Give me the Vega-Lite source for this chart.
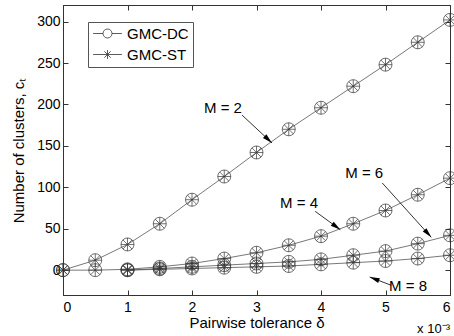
{
  "$schema": "https://vega.github.io/schema/vega-lite/v6.json",
  "autosize": "none",
  "width": 387,
  "height": 290,
  "padding": {"left": 63, "top": 5, "right": 4, "bottom": 41},
  "background": "white",
  "config": {
    "view": {"stroke": "#333", "strokeWidth": 1},
    "font": "Liberation Sans",
    "axis": {"labelFont": "Liberation Sans", "titleFont": "Liberation Sans", "labelColor": "black", "titleColor": "black", "domainColor": "#333", "tickColor": "#333", "grid": false, "labelFontSize": 14, "titleFontSize": 15, "titleFontWeight": "normal"}
  },
  "datasets": {
    "curves": [
      {"d": 0, "M": "2", "GMC-DC": 0, "GMC-ST": 0},
      {"d": 0.5, "M": "2", "GMC-DC": 12, "GMC-ST": 12},
      {"d": 1, "M": "2", "GMC-DC": 31, "GMC-ST": 31},
      {"d": 1.5, "M": "2", "GMC-DC": 56, "GMC-ST": 56},
      {"d": 2, "M": "2", "GMC-DC": 85, "GMC-ST": 85},
      {"d": 2.5, "M": "2", "GMC-DC": 113, "GMC-ST": 113},
      {"d": 3, "M": "2", "GMC-DC": 142, "GMC-ST": 142},
      {"d": 3.5, "M": "2", "GMC-DC": 170, "GMC-ST": 170},
      {"d": 4, "M": "2", "GMC-DC": 196, "GMC-ST": 196},
      {"d": 4.5, "M": "2", "GMC-DC": 222, "GMC-ST": 222},
      {"d": 5, "M": "2", "GMC-DC": 248, "GMC-ST": 248},
      {"d": 5.5, "M": "2", "GMC-DC": 275, "GMC-ST": 275},
      {"d": 6, "M": "2", "GMC-DC": 302, "GMC-ST": 302},
      {"d": 0, "M": "4", "GMC-DC": 0, "GMC-ST": 0},
      {"d": 0.5, "M": "4", "GMC-DC": 0, "GMC-ST": 0},
      {"d": 1, "M": "4", "GMC-DC": 1, "GMC-ST": 1},
      {"d": 1.5, "M": "4", "GMC-DC": 4, "GMC-ST": 4},
      {"d": 2, "M": "4", "GMC-DC": 8, "GMC-ST": 8},
      {"d": 2.5, "M": "4", "GMC-DC": 14, "GMC-ST": 14},
      {"d": 3, "M": "4", "GMC-DC": 21, "GMC-ST": 21},
      {"d": 3.5, "M": "4", "GMC-DC": 30, "GMC-ST": 30},
      {"d": 4, "M": "4", "GMC-DC": 41, "GMC-ST": 41},
      {"d": 4.5, "M": "4", "GMC-DC": 56, "GMC-ST": 56},
      {"d": 5, "M": "4", "GMC-DC": 72, "GMC-ST": 72},
      {"d": 5.5, "M": "4", "GMC-DC": 91, "GMC-ST": 91},
      {"d": 6, "M": "4", "GMC-DC": 111, "GMC-ST": 111},
      {"d": 1, "M": "6", "GMC-DC": 0, "GMC-ST": 0},
      {"d": 1.5, "M": "6", "GMC-DC": 2, "GMC-ST": 2},
      {"d": 2, "M": "6", "GMC-DC": 4, "GMC-ST": 4},
      {"d": 2.5, "M": "6", "GMC-DC": 6, "GMC-ST": 6},
      {"d": 3, "M": "6", "GMC-DC": 8, "GMC-ST": 8},
      {"d": 3.5, "M": "6", "GMC-DC": 10, "GMC-ST": 10},
      {"d": 4, "M": "6", "GMC-DC": 13, "GMC-ST": 13},
      {"d": 4.5, "M": "6", "GMC-DC": 18, "GMC-ST": 18},
      {"d": 5, "M": "6", "GMC-DC": 23, "GMC-ST": 23},
      {"d": 5.5, "M": "6", "GMC-DC": 32, "GMC-ST": 32},
      {"d": 6, "M": "6", "GMC-DC": 42, "GMC-ST": 42},
      {"d": 1, "M": "8", "GMC-DC": 0, "GMC-ST": 0},
      {"d": 1.5, "M": "8", "GMC-DC": 1, "GMC-ST": 1},
      {"d": 2, "M": "8", "GMC-DC": 2, "GMC-ST": 2},
      {"d": 2.5, "M": "8", "GMC-DC": 3, "GMC-ST": 3},
      {"d": 3, "M": "8", "GMC-DC": 4, "GMC-ST": 4},
      {"d": 3.5, "M": "8", "GMC-DC": 5, "GMC-ST": 5},
      {"d": 4, "M": "8", "GMC-DC": 7, "GMC-ST": 7},
      {"d": 4.5, "M": "8", "GMC-DC": 9, "GMC-ST": 9},
      {"d": 5, "M": "8", "GMC-DC": 11, "GMC-ST": 11},
      {"d": 5.5, "M": "8", "GMC-DC": 14, "GMC-ST": 14},
      {"d": 6, "M": "8", "GMC-DC": 18, "GMC-ST": 18}
    ],
    "notes": [
      {"label": "M = 2", "tx": 2.48, "ty": 195.7, "ax": 2.775, "ay": 187.2, "bx": 3.24, "by": 153.5},
      {"label": "M = 4", "tx": 3.66, "ty": 81, "ax": 3.91, "ay": 71, "bx": 4.3, "by": 48.8},
      {"label": "M = 6", "tx": 4.67, "ty": 117.3, "ax": 4.95, "ay": 105.2, "bx": 5.71, "by": 39.6},
      {"label": "M = 8", "tx": 5.35, "ty": -19.5, "ax": 5.09, "ay": -18.3, "bx": 4.755, "by": -8.3}
    ],
    "scaleNote": [{"note": "x 10⁻³", "d": 6, "c": -75.5}]
  },
  "layer": [
    {
      "data": {"name": "curves"},
      "mark": {"type": "line", "color": "#555", "strokeWidth": 0.8},
      "encoding": {
        "x": {"field": "d", "type": "quantitative", "scale": {"domain": [0, 6], "nice": false},
              "axis": {"orient": "bottom", "values": [0, 1, 2, 3, 4, 5, 6], "tickSize": -5, "labelPadding": 10, "title": "Pairwise tolerance δ", "titlePadding": 1.5}},
        "y": {"field": "GMC-DC", "type": "quantitative", "scale": {"domain": [-30, 320], "nice": false, "zero": false},
              "axis": {"orient": "left", "values": [0, 50, 100, 150, 200, 250, 300], "tickSize": -5, "labelPadding": 8, "title": "Number of clusters, cₜ", "titlePadding": 10}},
        "detail": {"field": "M", "type": "nominal"}
      }
    },
    {
      "data": {"name": "curves"},
      "mark": {"type": "point", "shape": "circle", "filled": false, "stroke": "#333", "strokeWidth": 0.7, "size": 169, "opacity": 1},
      "encoding": {
        "x": {"field": "d", "type": "quantitative",
              "axis": {"orient": "top", "values": [0, 1, 2, 3, 4, 5, 6], "tickSize": -5, "labels": false, "title": null}},
        "y": {"field": "GMC-DC", "type": "quantitative",
              "axis": {"orient": "right", "values": [0, 50, 100, 150, 200, 250, 300], "tickSize": -5, "labels": false, "title": null}}
      }
    },
    {
      "data": {"name": "curves"},
      "mark": {"type": "point", "shape": "M-1,0L1,0M0,-1L0,1M-0.7,-0.7L0.7,0.7M-0.7,0.7L0.7,-0.7", "filled": false, "stroke": "#333", "strokeWidth": 0.7, "size": 169, "opacity": 1},
      "encoding": {
        "x": {"field": "d", "type": "quantitative", "axis": null},
        "y": {"field": "GMC-ST", "type": "quantitative", "axis": null}
      }
    },
    {
      "data": {"name": "curves"},
      "transform": [{"fold": ["GMC-DC", "GMC-ST"], "as": ["method", "c"]}, {"filter": "datum.d < 0"}],
      "mark": {"type": "point", "filled": false, "stroke": "#333", "strokeWidth": 0.8, "opacity": 1},
      "encoding": {
        "x": {"field": "d", "type": "quantitative", "axis": null},
        "y": {"field": "c", "type": "quantitative", "axis": null},
        "shape": {"field": "method", "type": "nominal",
                  "scale": {"domain": ["GMC-DC", "GMC-ST"], "range": ["M-3.2,0L-1,0M1,0L3.2,0M1,0A1,1,0,1,1,-1,0A1,1,0,1,1,1,0", "M-3.2,0L3.2,0M0,-1L0,1M-0.7,-0.7L0.7,0.7M-0.7,0.7L0.7,-0.7"]},
                  "legend": {"orient": "none", "legendX": 25, "legendY": 17, "title": null, "symbolSize": 81, "symbolStrokeWidth": 0.8, "symbolStrokeColor": "#333", "symbolFillColor": "transparent", "symbolOpacity": 1, "labelFont": "Liberation Sans", "labelFontSize": 15, "labelColor": "black", "strokeColor": "#555", "fillColor": "white", "padding": 4, "rowPadding": 5, "symbolOffset": 8, "labelOffset": 12}}
      }
    },
    {
      "data": {"name": "notes"},
      "mark": {"type": "rule", "color": "black", "strokeWidth": 0.8},
      "encoding": {
        "x": {"field": "ax", "type": "quantitative", "axis": null},
        "y": {"field": "ay", "type": "quantitative", "axis": null},
        "x2": {"field": "bx"},
        "y2": {"field": "by"}
      }
    },
    {
      "data": {"name": "notes"},
      "mark": {"type": "point", "filled": true, "color": "black", "size": 100, "shape": "M0,0L0.5,2L-0.5,2Z", "opacity": 1},
      "encoding": {
        "x": {"field": "bx", "type": "quantitative", "axis": null},
        "y": {"field": "by", "type": "quantitative", "axis": null},
        "angle": {"field": "label", "type": "nominal", "scale": {"type": "ordinal", "domain": ["M = 2", "M = 4", "M = 6", "M = 8"], "range": [133, 126, 138, 291]}, "legend": null}
      }
    },
    {
      "data": {"name": "notes"},
      "mark": {"type": "text", "fontSize": 15, "font": "Liberation Sans", "color": "black", "align": "center", "baseline": "middle"},
      "encoding": {
        "x": {"field": "tx", "type": "quantitative", "axis": null},
        "y": {"field": "ty", "type": "quantitative", "axis": null},
        "text": {"field": "label"}
      }
    },
    {
      "data": {"name": "scaleNote"},
      "mark": {"type": "text", "fontSize": 13, "font": "Liberation Sans", "color": "black", "align": "right", "baseline": "alphabetic", "dx": 0},
      "encoding": {
        "x": {"field": "d", "type": "quantitative", "axis": null},
        "y": {"field": "c", "type": "quantitative", "axis": null},
        "text": {"field": "note"}
      }
    }
  ],
  "resolve": {"axis": {"x": "independent", "y": "independent"}}
}
